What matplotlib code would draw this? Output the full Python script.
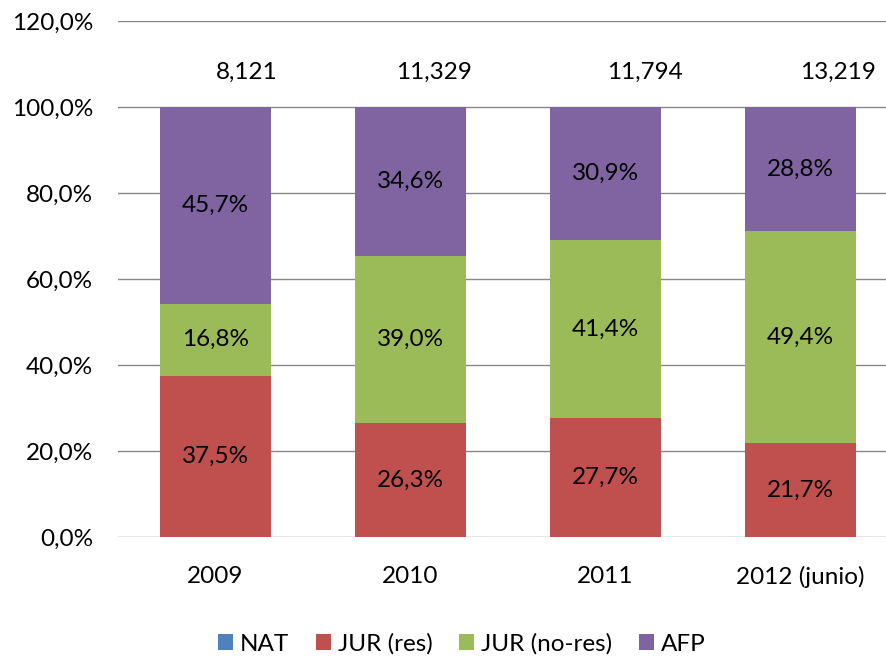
import matplotlib.pyplot as plt
import numpy as np

plt.rcParams['font.family'] = ['Lato', 'DejaVu Sans']

# Data
years = ['2009', '2010', '2011', '2012 (junio)']
nat = [0.0, 0.1, 0.0, 0.1]
jur_res = [37.5, 26.3, 27.7, 21.7]
jur_nores = [16.8, 39.0, 41.4, 49.4]
afp = [45.7, 34.6, 30.9, 28.8]
totals = ['8,121', '11,329', '11,794', '13,219']

series = [('NAT', nat, '#4F81BD'),
          ('JUR (res)', jur_res, '#C0504D'),
          ('JUR (no-res)', jur_nores, '#9BBB59'),
          ('AFP', afp, '#8064A2')]

FS = 17.5
fig = plt.figure(figsize=(8.87, 6.57), dpi=100)
ax = fig.add_axes([118 / 887, 120 / 657, 780 / 887, 516 / 657])

x = np.arange(len(years))
bottom = np.zeros(len(years))
handles = []
for name, vals, color in series:
    vals = np.array(vals)
    b = ax.bar(x, vals, width=0.57, bottom=bottom, color=color, label=name, zorder=3)
    handles.append(b)
    if name != 'NAT':
        for xi, v, b0 in zip(x, vals, bottom):
            ax.text(xi, b0 + v / 2, f'{v:.1f}%'.replace('.', ','), ha='center',
                    va='center', fontsize=FS, color='black', zorder=4)
    bottom += vals

# totals above bars (text boxes sit a bit right of each bar)
total_offsets = [0.16, 0.12, 0.20, 0.19]
for xi, t, off in zip(x, totals, total_offsets):
    ax.text(xi + off, 108.1, t, ha='center', va='center', fontsize=FS)

ax.set_xlim(-0.5, 3.5)
ax.set_ylim(0, 120)
ax.set_yticks(np.arange(0, 121, 20))
ax.set_yticklabels([f'{v:.1f}%'.replace('.', ',') for v in np.arange(0, 121, 20)])
ax.set_xticks(x)
ax.set_xticklabels(years)
ax.tick_params(axis='y', length=0, pad=18, labelsize=FS)
ax.tick_params(axis='x', length=0, pad=21, labelsize=FS)
ax.yaxis.grid(True, color='#888888', linewidth=1.0, zorder=0)
for s in ax.spines.values():
    s.set_visible(False)

fig.legend(handles=handles, labels=[s[0] for s in series], loc='center',
           bbox_to_anchor=(462 / 887, 13 / 657), ncol=4, frameon=False,
           fontsize=FS, handlelength=0.6, handleheight=0.6, handletextpad=0.3,
           columnspacing=1.1, borderpad=0)

fig.savefig('out.png', dpi=100)
